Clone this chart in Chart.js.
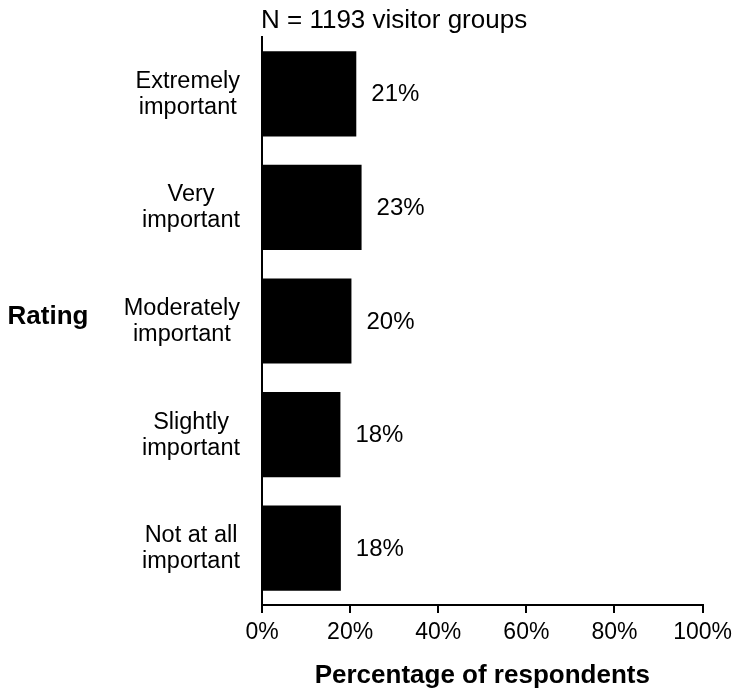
<!DOCTYPE html>
<html>
<head>
<meta charset="utf-8">
<title>Importance rating</title>
<script src="https://cdn.jsdelivr.net/npm/chart.js@4"></script>
<style>
  html, body { margin: 0; padding: 0; background: #fff; }
  #wrap { width: 738px; height: 694px; }
</style>
</head>
<body>
<div id="wrap"><canvas id="ratingChart" width="738" height="694"></canvas></div>
<script>
  // values
  const ratings = [
    ['Extremely', 'important'],
    ['Very', 'important'],
    ['Moderately', 'important'],
    ['Slightly', 'important'],
    ['Not at all', 'important']
  ];
  const percents = [21.4, 22.6, 20.3, 17.8, 17.9];
  const pctLabels = ['21%', '23%', '20%', '18%', '18%'];
  const sampleNote = 'N = 1193 visitor groups';
  const yTitle = 'Rating';
  const xTitle = 'Percentage of respondents';

  const FONT = '"Liberation Sans", Arial, sans-serif';

  // Excel-style category labels: each block right aligned, its lines centred inside it.
  // y comes from the category scale itself.
  const categoryLabels = {
    id: 'categoryLabels',
    afterDraw(chart) {
      const ctx = chart.ctx;
      const yScale = chart.scales.y;
      const right = chart.chartArea.left - 22;
      ctx.save();
      ctx.fillStyle = '#000';
      ctx.font = '23.5px ' + FONT;
      ctx.textAlign = 'center';
      ctx.textBaseline = 'alphabetic';
      ratings.forEach((lines, i) => {
        const y = yScale.getPixelForTick(i);
        const widest = Math.max(...lines.map(l => ctx.measureText(l).width));
        const cx = right - widest / 2;
        lines.forEach((line, j) => {
          ctx.fillText(line, cx, y - 6 + j * 26);
        });
      });
      ctx.restore();
    }
  };

  // the % next to each bar, plus the note on top and the horizontal "Rating" label
  const extraText = {
    id: 'extraText',
    afterDatasetsDraw(chart) {
      const ctx = chart.ctx;
      const meta = chart.getDatasetMeta(0);
      ctx.save();
      ctx.fillStyle = '#000';
      ctx.font = '24px ' + FONT;
      ctx.textAlign = 'left';
      ctx.textBaseline = 'middle';
      meta.data.forEach((bar, i) => {
        ctx.fillText(pctLabels[i], bar.x + 15, bar.y + 1);
      });

      const area = chart.chartArea;
      ctx.font = '26px ' + FONT;
      ctx.fillText(sampleNote, area.left - 1, 21);

      ctx.font = 'bold 26px ' + FONT;
      ctx.textAlign = 'center';
      ctx.fillText(yTitle, 48, (area.top + area.bottom) / 2 - 4);
      ctx.restore();
    }
  };

  window.onload = function() {
    const ctx = document.getElementById('ratingChart').getContext('2d');
    new Chart(ctx, {
      type: 'bar',
      data: {
        labels: ratings,
        datasets: [{
          data: percents,
          backgroundColor: '#000',
          borderWidth: 0,
          categoryPercentage: 1,
          barPercentage: 0.75
        }]
      },
      options: {
        indexAxis: 'y',
        responsive: false,
        animation: false,
        layout: { padding: { top: 37, left: 100, right: 34, bottom: 0 } },
        plugins: {
          legend: { display: false },
          tooltip: { enabled: false }
        },
        scales: {
          x: {
            min: 0,
            max: 100,
            afterFit: (scale) => { scale.height = 89; },
            ticks: {
              stepSize: 20,
              color: '#000',
              padding: 6,
              font: { family: FONT, size: 23 },
              callback: (v) => v + '%'
            },
            grid: {
              drawOnChartArea: false,
              drawTicks: true,
              tickLength: 8,
              color: '#000',
              lineWidth: 2
            },
            border: { display: true, color: '#000', width: 2 },
            title: {
              display: true,
              text: xTitle,
              color: '#000',
              font: { family: FONT, size: 26, weight: 'bold' },
              padding: { top: 0, bottom: 3 }
            }
          },
          y: {
            afterFit: (scale) => {
              scale.width = 162;
              scale.paddingTop = 0;
              scale.paddingBottom = 0;
            },
            ticks: { display: false },
            grid: { display: false },
            border: { display: true, color: '#000', width: 2 }
          }
        }
      },
      plugins: [extraText, categoryLabels]
    });
  };
</script>
</body>
</html>
